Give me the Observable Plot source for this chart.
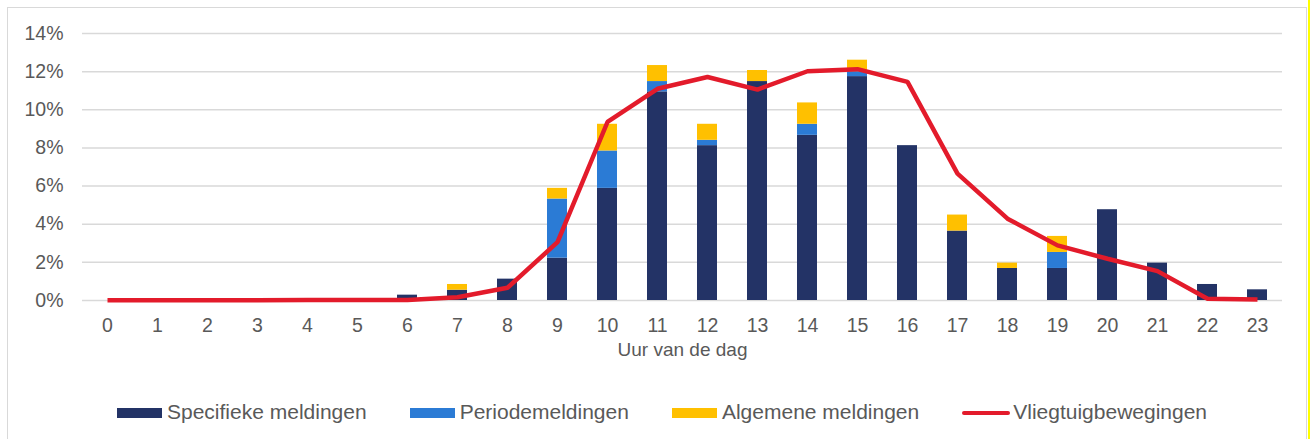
<!DOCTYPE html>
<html><head><meta charset="utf-8">
<script src="https://cdn.jsdelivr.net/npm/d3@7"></script>
<script src="https://cdn.jsdelivr.net/npm/@observablehq/plot@0.6"></script>
<style>
html,body{margin:0;padding:0;background:#fff;width:1312px;height:439px;overflow:hidden;font-family:"Liberation Sans",Arial,sans-serif;}
#frame{position:absolute;left:7px;top:7px;width:1300px;height:460px;border:1px solid #d9d9d9;box-sizing:border-box;}
#yl{position:absolute;left:1308px;top:0;width:2px;height:439px;background:#ffff00;}
#chart{position:absolute;left:0;top:0;}
#legend{position:absolute;top:400px;left:117px;display:flex;align-items:center;height:24px;color:#595959;font-size:21px;white-space:nowrap;}
.item{display:flex;align-items:center;margin-right:43px;}
.sw{width:45px;height:10px;margin-right:5px;margin-top:2px;}
.ln{width:48px;height:4px;border-radius:2px;margin-right:3px;margin-top:2px;}
</style></head>
<body>
<div id="frame"></div>
<div id="yl"></div>
<div id="chart"></div>
<div id="legend"></div>
<script>
const hours = ["0","1","2","3","4","5","6","7","8","9","10","11","12","13","14","15","16","17","18","19","20","21","22","23"];
const specifiek = [0,0,0,0,0,0,0.28,0.54,1.12,2.22,5.88,10.94,8.12,11.48,8.66,11.74,8.12,3.64,1.68,1.68,4.76,1.96,0.84,0.56];
const periode   = [0,0,0,0,0,0,0,0,0,3.10,1.96,0.54,0.28,0,0.58,0.26,0,0,0,0.84,0,0,0,0];
const algemeen  = [0,0,0,0,0,0,0,0.30,0,0.56,1.40,0.84,0.84,0.58,1.12,0.60,0,0.84,0.28,0.84,0,0,0,0];
const vlieg     = [0.01,0.01,0.01,0.01,0.03,0.03,0.03,0.17,0.67,3.06,9.36,11.1,11.72,11.06,12.02,12.13,11.46,6.65,4.29,2.89,2.19,1.54,0.09,0.05];
const series = ["Specifieke meldingen","Periodemeldingen","Algemene meldingen"];
const colors = ["#233366","#2b7bd5","#ffc000"];
const lineName = "Vliegtuigbewegingen";
const lineColor = "#e31b2b";
const yTicks = [0,2,4,6,8,10,12,14];
const xTitle = "Uur van de dag";

const rows = [];
[specifiek, periode, algemeen].forEach((arr, s) => {
  hours.forEach((h, i) => rows.push({hour: h, serie: series[s], v: arr[i]}));
});
const lineRows = hours.map((h, i) => ({hour: h, v: vlieg[i]}));

const chart = Plot.plot({
  width: 1312, height: 380,
  marginLeft: 82, marginRight: 30, marginTop: 33, marginBottom: 80,
  style: {fontFamily: "'Liberation Sans', Arial, sans-serif", fontSize: "19.5px", color: "#595959", background: "transparent"},
  x: {type: "band", domain: hours, paddingInner: 0.6, paddingOuter: 0.3, label: null},
  y: {domain: [0, 14], label: null},
  color: {domain: series, range: colors},
  marks: [
    Plot.gridY(yTicks, {stroke: "#d9d9d9", strokeOpacity: 1, strokeWidth: 1.5}),
    Plot.axisY(yTicks, {tickSize: 0, tickPadding: 19, tickFormat: d => d + "%", label: null}),
    Plot.axisX({tickSize: 0, tickPadding: 18, label: null}),
    Plot.text([xTitle], {frameAnchor: "bottom", dy: 55, text: d => d, fontSize: 19}),
    Plot.barY(rows, {x: "hour", y: "v", fill: "serie", order: series}),
    Plot.lineY(lineRows, {x: "hour", y: "v", stroke: lineColor, strokeWidth: 4.5, strokeLinecap: "butt", strokeLinejoin: "miter"})
  ]
});
document.getElementById("chart").appendChild(chart);

const legend = document.getElementById("legend");
series.forEach((s, i) => {
  const it = document.createElement("div"); it.className = "item";
  it.innerHTML = `<div class="sw" style="background:${colors[i]}"></div><span>${s}</span>`;
  legend.appendChild(it);
});
const it = document.createElement("div"); it.className = "item";
it.innerHTML = `<div class="ln" style="background:${lineColor}"></div><span>${lineName}</span>`;
legend.appendChild(it);
</script>
</body></html>
